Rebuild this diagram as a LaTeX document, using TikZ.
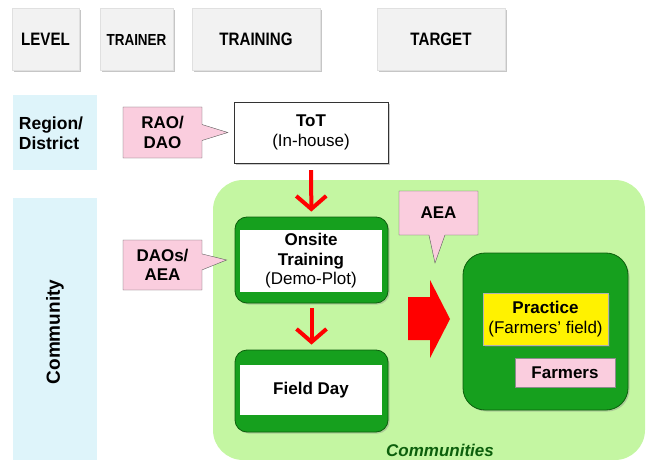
\documentclass[tikz,border=0pt]{standalone}
\usepackage{fontspec}
\setmainfont{Liberation Sans}
\usetikzlibrary{shapes.callouts,shadows,arrows.meta,calc}
\definecolor{headgray}{RGB}{242,242,242}
\definecolor{levelcyan}{RGB}{222,244,250}
\definecolor{commgreen}{RGB}{196,246,162}
\definecolor{boxgreen}{RGB}{22,160,30}
\definecolor{darkgreen}{RGB}{12,95,12}
\definecolor{notepink}{RGB}{250,205,222}
\newcommand{\narrowtext}[1]{\scalebox{.84}[1]{#1}}
\begin{document}
\begin{tikzpicture}[x=1pt,y=-1pt,
    every node/.style={inner sep=0pt,align=center,font=\fontsize{17}{19.5}\selectfont},
    header/.style={fill=headgray,draw=black!12,minimum height=62pt,
      drop shadow={shadow xshift=2pt,shadow yshift=-2pt,opacity=.45},
      font=\bfseries\fontsize{18}{20}\selectfont},
    levelbox/.style={fill=levelcyan,minimum width=84pt},
    note/.style={rectangle callout,fill=notepink,draw=black!65,minimum width=79pt,
      callout pointer width=16pt,font=\bfseries\fontsize{17}{19.5}\selectfont},
    frame/.style={rounded corners=12pt,fill=boxgreen,draw=darkgreen,line width=.8pt,
      minimum width=153pt,drop shadow={shadow xshift=1.5pt,shadow yshift=-1.5pt,opacity=.35}},
    inner/.style={fill=white,minimum width=142pt},
    flowarrow/.style={red,line width=4pt,-{Straight Barb[length=13pt,width=30pt]}}]
  \useasboundingbox (0,0) rectangle (646,460);
  \node[header,minimum width=67pt] (level) at (45.5,39.5) {\narrowtext{LEVEL}};
  \node[header,minimum width=73pt,font=\bfseries\fontsize{16}{18}\selectfont] (trainer) at (136.5,39.5) {\narrowtext{TRAINER}};
  \node[header,minimum width=128pt] (training) at (256,39.5) {\narrowtext{TRAINING}};
  \node[header,minimum width=128pt] (target) at (441,39.5) {\narrowtext{TARGET}};
  \node[levelbox,minimum height=75pt] (region) at (55,132.5) {};
  \node[font=\bfseries\fontsize{17.5}{20.5}\selectfont,align=left] (regiontext) at (51,133) {Region/\\District};
  \node[levelbox,minimum height=262pt] (community) at (55,329) {};
  \node[rotate=90,font=\bfseries\fontsize{19}{22}\selectfont] (communitytext) at (55,332) {Community};
  \node[fill=commgreen,rounded corners=30pt,minimum width=432pt,minimum height=280pt] (commarea) at (429,320) {};
  \node[draw=black!80,fill=white,minimum width=154pt,minimum height=61pt,
    drop shadow={shadow xshift=2pt,shadow yshift=-2pt,opacity=.4}] (tot) at (311,132.5)
    {\textbf{ToT}\\(In-house)};
  \node[frame,minimum height=86pt] (onsiteframe) at (311.5,260) {};
  \node[inner,minimum height=62pt] (onsite) at (311,261) {\textbf{Onsite}\\\textbf{Training}\\(Demo-Plot)};
  \node[frame,minimum height=82pt] (fielddayframe) at (311.5,391) {};
  \node[inner,minimum height=50pt] (fieldday) at (311,390) {\textbf{Field Day}};
  \node[frame,rounded corners=22pt,minimum width=165pt,minimum height=157pt] (targetframe) at (545.5,331.5) {};
  \node[fill=yellow,draw=black!30,minimum width=125pt,minimum height=52pt,
    drop shadow={shadow xshift=1.5pt,shadow yshift=-1.5pt,opacity=.35}] (practice) at (545.5,319)
    {\textbf{Practice}\\(Farmers' field)};
  \node[fill=notepink,draw=black!45,minimum width=100pt,minimum height=29pt,
    font=\bfseries\fontsize{17}{19.5}\selectfont] (farmers) at (565,372.5) {Farmers};
  \node[font=\bfseries\itshape\fontsize{17}{19.5}\selectfont,text=darkgreen] (communities) at (440,450) {Communities};
  \coordinate (raotip) at ($(tot.west)+(-6,0)$);
  \coordinate (daostip) at ($(onsiteframe.west)+(-8,0)$);
  \coordinate (aeatip) at (435,263);
  \node[note,minimum height=51pt,callout absolute pointer={(raotip)}] (rao) at (162.5,132.5) {RAO/\\DAO};
  \node[note,minimum height=50pt,callout absolute pointer={(daostip)}] (daos) at (162.5,265) {DAOs/\\AEA};
  \node[note,minimum height=44pt,callout absolute pointer={(aeatip)}] (aea) at (438.5,213) {AEA};
  \draw[flowarrow,shorten <=7pt,shorten >=5pt] (tot) -- (onsiteframe);
  \draw[flowarrow,shorten <=5pt,shorten >=5pt] (onsiteframe) -- (fielddayframe);
  \fill[red] (408,297) -- (430,297) -- (430,280) -- (450,319) -- (430,358) -- (430,340) -- (408,340) -- cycle;
\end{tikzpicture}
\end{document}
